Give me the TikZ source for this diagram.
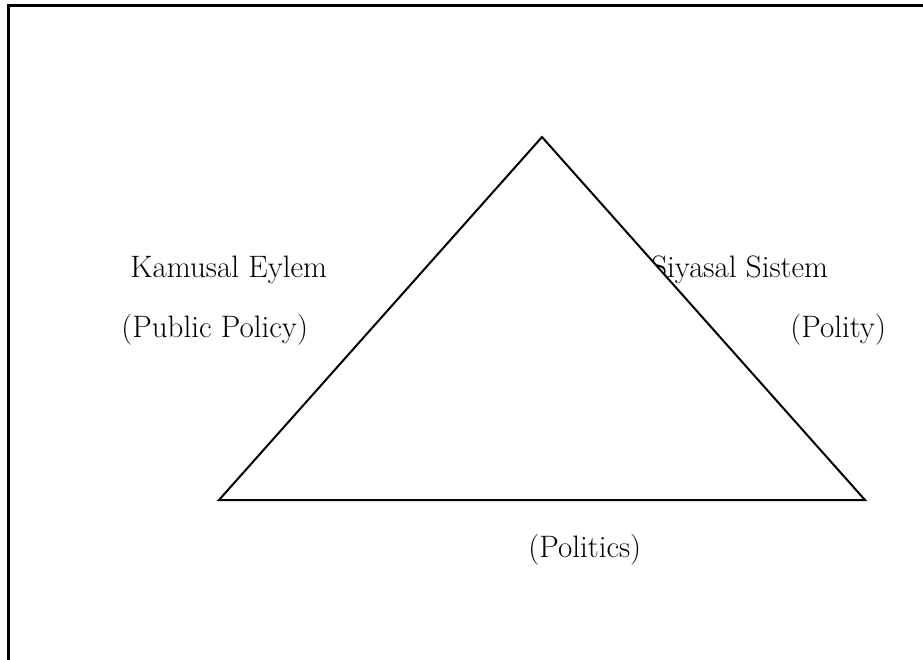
\documentclass[tikz,border=0pt]{standalone}
\usepackage{fontspec}
\usepackage{tikz}

\tikzset{
    label text/.style={anchor=base west, inner sep=0pt, font=\fontsize{15.5}{18}\selectfont}
}

\begin{document}
\begin{tikzpicture}[x=0.5pt,y=-0.5pt]
% Fix the page to the size of the figure
\useasboundingbox (0,0) rectangle (923,660);
\clip (0,0) rectangle (923,660);

% Outer frame -- only its top and left sides are inside the page
\draw[line width=1.5pt] (8,700) -- (8,5) -- (960,5);

% Labels of the three corners
\node[label text] (kamusal) at (130,277) {Kamusal Eylem};
\node[label text] (policy) at (121,337) {(Public Policy)};
\node[label text] (siyasal) at (651,277) {Siyasal Sistem};
\node[label text] (polity) at (790,337) {(Polity)};
\node[label text] (politics) at (528,557) {(Politics)};

% The triangle, filled white so that it sits on top of the labels
\coordinate (top) at (542,137);
\coordinate (left) at (219,500);
\coordinate (right) at (865,500);
\filldraw[fill=white, line width=1pt] (top) -- (right) -- (left) -- cycle;

\end{tikzpicture}
\end{document}
